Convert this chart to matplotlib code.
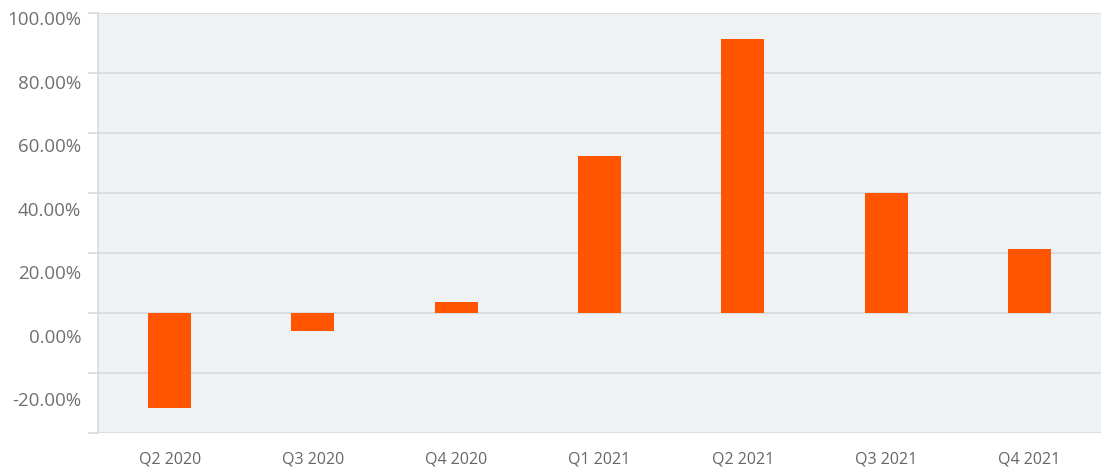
import matplotlib.pyplot as plt
import numpy as np

quarters = ["Q2 2020", "Q3 2020", "Q4 2020", "Q1 2021", "Q2 2021", "Q3 2021", "Q4 2021"]
growth = [-31.7, -6.0, 3.8, 52.3, 91.3, 40.0, 21.3]
y_ticks = [-40, -20, 0, 20, 40, 60, 80, 100]
y_labels = [-20, 0, 20, 40, 60, 80, 100]

plt.rcParams["font.family"] = ["Open Sans", "DejaVu Sans"]

fig = plt.figure(figsize=(11.07, 4.72), dpi=100)
ax = fig.add_axes([98 / 1107, 39 / 472, 1003 / 1107, 420 / 472])
ax.set_facecolor("#eff2f4")

x = np.arange(len(quarters))
ax.bar(x, growth, width=0.3, color="#ff5500", zorder=3)

ax.set_xlim(-0.5, len(quarters) - 0.5)
ax.set_ylim(-40, 100)
ax.set_yticks(y_ticks)
ax.set_yticklabels([])
ax.grid(axis="y", color="#d8dbdd", linewidth=1.2, zorder=0)
ax.tick_params(axis="y", length=7, color="#d8dbdd", width=1.2)
ax.set_xticks(x)
ax.set_xticklabels(quarters, fontsize=11.5, color="#666666")
ax.tick_params(axis="x", length=0, pad=13)

for side in ["top", "right", "bottom"]:
    ax.spines[side].set_visible(False)
ax.spines["left"].set_color("#d8dbdd")
ax.spines["left"].set_linewidth(1.2)

# labels sit on a slightly stretched scale, offset from the gridlines
ax2 = ax.twinx()
ax2.set_ylim(-30.72, 101.73)
ax2.yaxis.set_ticks_position("left")
ax2.set_yticks(y_labels)
ax2.set_yticklabels([f"{v:.2f}%" for v in y_labels], fontsize=13.5, color="#707070")
ax2.tick_params(axis="y", length=0, pad=12)
for side in ["top", "right", "bottom", "left"]:
    ax2.spines[side].set_visible(False)

fig.savefig("out.png", dpi=100)
